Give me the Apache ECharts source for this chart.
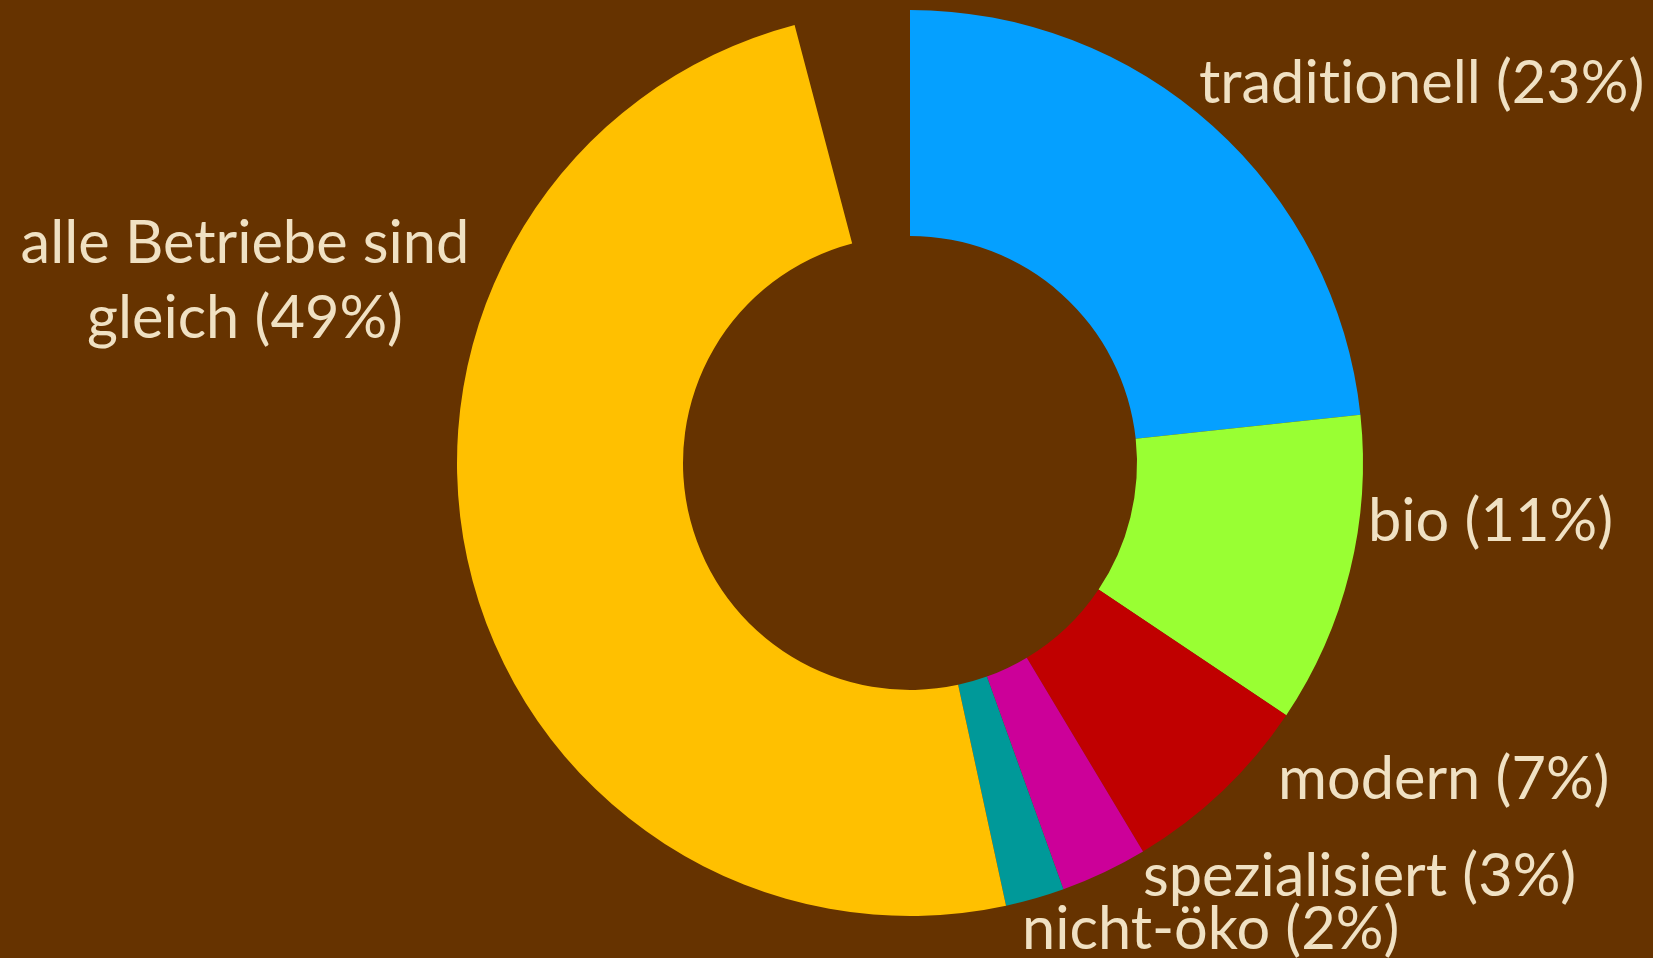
<!DOCTYPE html>
<html>
<head>
<meta charset="utf-8">
<title>Betriebe</title>
<script src="https://cdn.jsdelivr.net/npm/echarts@6/dist/echarts.min.js"></script>
<style>
  html, body { margin: 0; padding: 0; background: #663300; }
  #chart { width: 1653px; height: 958px; }
</style>
</head>
<body>
<div id="chart"></div>
<script>
// data (share of the full circle, %)
var categories = ['tradit\u200Cionell', 'bio', 'modern', 'spezialisiert', 'nicht-öko', 'alle Betriebe sind\ngleich']
var shownPercent = ['23%', '11%', '7%', '3%', '2%', '49%']
var values = [23.3, 11.1, 7.0, 3.1, 2.1, 49.3]
var gapValue = 4.1 // the empty wedge at the top

var colors = ['#05a0ff', '#99ff33', '#c00000', '#cc0099', '#009999', '#ffc000']

// where each label sits (left edge / centre, middle)
var labelPos = [
  [1199, 84, 'left'],
  [1368, 522, 'left'],
  [1278, 780, 'left'],
  [1143, 877, 'left'],
  [1022, 930, 'left'],
  [245, 281, 'center']
]

var pieData = []
for (var i = 0; i < categories.length; i++) {
  pieData.push({
    name: categories[i],
    value: values[i],
    itemStyle: { color: colors[i] },
    label: { formatter: categories[i] + ' (' + shownPercent[i] + ')' }
  })
}
pieData.push({
  name: 'gap',
  value: gapValue,
  itemStyle: { color: 'rgba(0,0,0,0)' },
  label: { show: false }
})

var chart = echarts.init(document.getElementById('chart'))
chart.setOption({
  backgroundColor: '#663300',
  animation: false,
  series: [
    {
      type: 'pie',
      center: [910, 463],
      radius: [227, 453],
      startAngle: 90,
      clockwise: true,
      avoidLabelOverlap: false,
      emphasis: { disabled: true },
      itemStyle: { borderWidth: 0 },
      label: {
        show: true,
        position: 'outside',
        color: '#f0e1c3',
        fontFamily: 'Lato',
        fontSize: 59.5,
        lineHeight: 75
      },
      labelLine: { show: false },
      labelLayout: function (params) {
        var p = labelPos[params.dataIndex]
        if (!p) return {}
        return { x: p[0], y: p[1], align: p[2], verticalAlign: 'middle' }
      },
      data: pieData
    }
  ]
})
</script>
</body>
</html>
